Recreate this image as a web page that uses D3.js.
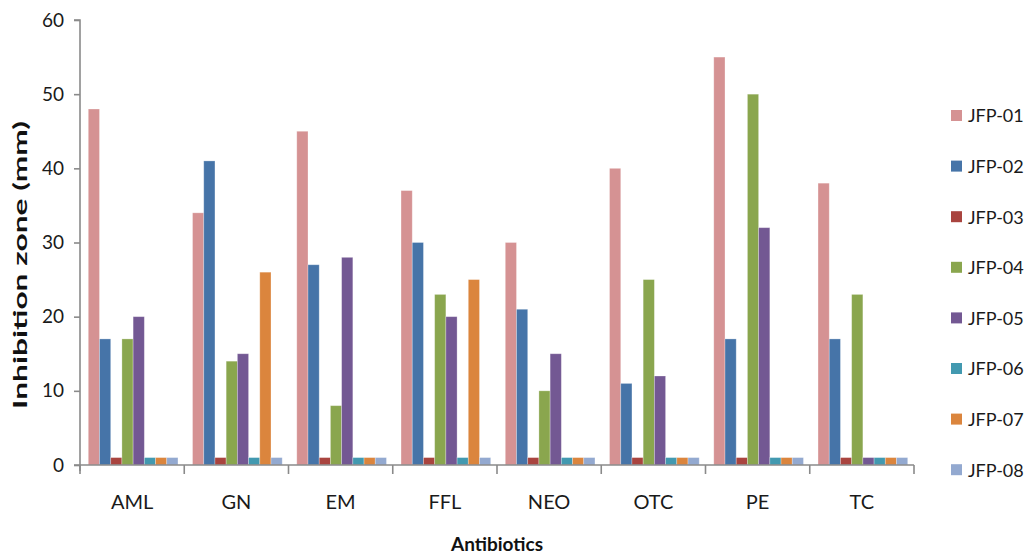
<!DOCTYPE html>
<html>
<head>
<meta charset="utf-8">
<script src="https://cdn.jsdelivr.net/npm/d3@7"></script>
<style>
  html, body { margin: 0; padding: 0; background: #fff; }
  svg { display: block; font-family: Lato, "Open Sans", sans-serif; }
</style>
</head>
<body>
<svg id="chart" width="1032" height="557"></svg>
<script>
// Antibiotics tested and the isolate series
const antibiotics = ["AML", "GN", "EM", "FFL", "NEO", "OTC", "PE", "TC"];
const isolates = ["JFP-01", "JFP-02", "JFP-03", "JFP-04", "JFP-05", "JFP-06", "JFP-07", "JFP-08"];

// Inhibition zone (mm) per isolate, in antibiotic order
const jfp01 = [48, 34, 45, 37, 30, 40, 55, 38];
const jfp02 = [17, 41, 27, 30, 21, 11, 17, 17];
const jfp03 = [1, 1, 1, 1, 1, 1, 1, 1];
const jfp04 = [17, 14, 8, 23, 10, 25, 50, 23];
const jfp05 = [20, 15, 28, 20, 15, 12, 32, 1];
const jfp06 = [1, 1, 1, 1, 1, 1, 1, 1];
const jfp07 = [1, 26, 1, 25, 1, 1, 1, 1];
const jfp08 = [1, 1, 1, 1, 1, 1, 1, 1];

const yTicks = [0, 10, 20, 30, 40, 50, 60];
const colors = ["#D59293", "#4674A8", "#A9443F", "#8AA64E", "#735893", "#4299B0", "#DB853D", "#93A9D0"];

const seriesValues = [jfp01, jfp02, jfp03, jfp04, jfp05, jfp06, jfp07, jfp08];

const svg = d3.select("#chart");
const plot = { left: 80, right: 914, top: 20, bottom: 465 };

const x = d3.scaleBand().domain(antibiotics).range([plot.left, plot.right]).padding(0);
const xInner = d3.scaleBand().domain(isolates).range([0, x.bandwidth()])
  .paddingInner(0).paddingOuter(0.65);
const y = d3.scaleLinear().domain([0, 60]).range([plot.bottom, plot.top]);
const color = d3.scaleOrdinal().domain(isolates).range(colors);

const axisColor = "#8a8a8a";
const textColor = "#1a1a1a";

// Bars
const groups = svg.append("g").selectAll("g")
  .data(antibiotics)
  .join("g")
  .attr("transform", d => `translate(${x(d) + 1},0)`);

groups.selectAll("rect")
  .data((d, i) => isolates.map((s, k) => ({ s, v: seriesValues[k][i] })))
  .join("rect")
  .attr("x", d => xInner(d.s))
  .attr("y", d => y(d.v))
  .attr("width", xInner.bandwidth())
  .attr("height", d => y(0) - y(d.v))
  .attr("fill", d => color(d.s))
  .attr("stroke", "rgba(255,255,255,0.35)")
  .attr("stroke-width", 0.8);

// Y axis
const yAxis = svg.append("g")
  .attr("transform", `translate(${plot.left},0)`)
  .call(d3.axisLeft(y).tickValues(yTicks).tickSize(6).tickPadding(10));
yAxis.select(".domain").attr("stroke", axisColor).attr("stroke-width", 1.6)
  .attr("d", `M-6,${plot.top}H0V${plot.bottom + 6}`);
yAxis.selectAll(".tick line").attr("stroke", axisColor).attr("stroke-width", 1.6);
yAxis.selectAll(".tick text").attr("fill", textColor).attr("font-size", 19)
  .attr("font-family", "Lato, sans-serif");

// X axis
const xAxis = svg.append("g")
  .attr("transform", `translate(0,${plot.bottom})`)
  .call(d3.axisBottom(x).tickSize(0).tickPadding(12));
xAxis.select(".domain").attr("stroke", axisColor).attr("stroke-width", 1.6)
  .attr("d", `M${plot.left - 6},0H${plot.right}`);
xAxis.selectAll(".tick text")
  .attr("y", 44).attr("dy", 0)
  .attr("fill", textColor).attr("font-size", 20)
  .attr("font-family", "Lato, sans-serif");
// Category separator ticks
xAxis.append("g").selectAll("line")
  .data(d3.range(antibiotics.length + 1))
  .join("line")
  .attr("x1", i => plot.left + i * x.step())
  .attr("x2", i => plot.left + i * x.step())
  .attr("y1", 0).attr("y2", 9)
  .attr("stroke", axisColor).attr("stroke-width", 1.6);

// Axis titles
svg.append("text")
  .attr("transform", "translate(27,265) rotate(-90)")
  .attr("text-anchor", "middle")
  .attr("font-size", 19).attr("font-weight", "bold").attr("fill", "#111")
  .attr("textLength", 288).attr("lengthAdjust", "spacingAndGlyphs")
  .text("Inhibition zone (mm)");

svg.append("text")
  .attr("x", 497).attr("y", 551)
  .attr("text-anchor", "middle")
  .attr("font-size", 19).attr("font-weight", "bold").attr("fill", "#111")
  .text("Antibiotics");

// Legend
const legend = svg.append("g").attr("transform", "translate(951,116)");
const rowStep = 50.6;
const items = legend.selectAll("g").data(isolates).join("g")
  .attr("transform", (d, i) => `translate(0,${i * rowStep})`);
items.append("rect")
  .attr("x", 0).attr("y", -6).attr("width", 11).attr("height", 11)
  .attr("fill", d => color(d));
items.append("text")
  .attr("x", 17).attr("y", 0).attr("dy", "0.36em")
  .attr("font-size", 18).attr("fill", textColor)
  .text(d => d);
</script>
</body>
</html>
